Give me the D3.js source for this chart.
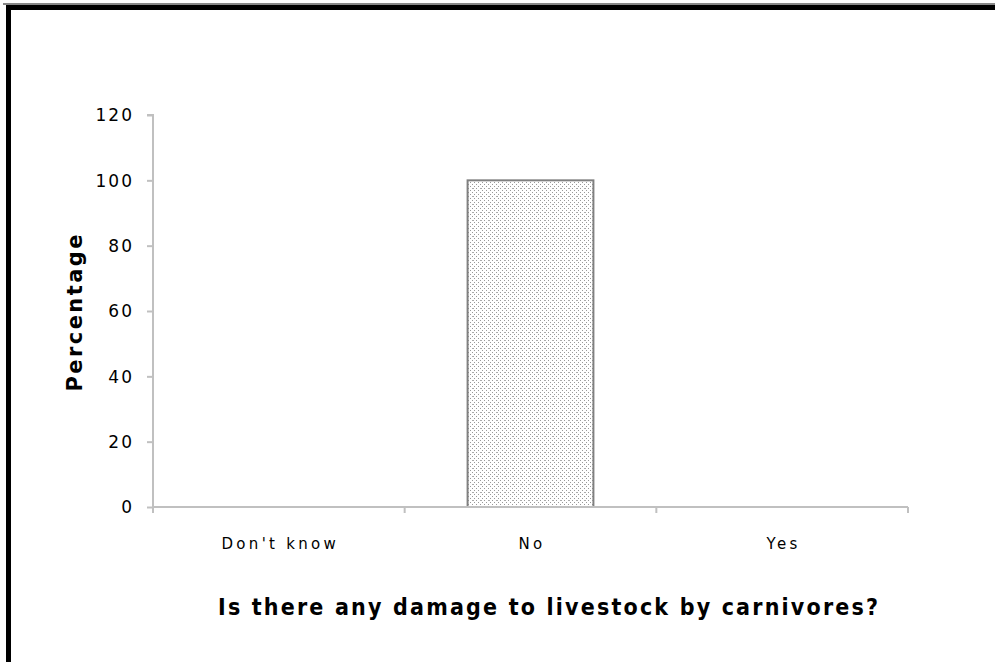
<!DOCTYPE html>
<html><head><meta charset="utf-8">
<script src="https://cdn.jsdelivr.net/npm/d3@7"></script>
<style>body{margin:0;background:#fff}svg{display:block}</style>
</head><body>
<script>
const categories = ["Don't know", "No", "Yes"];
const values = [0, 100, 0];
const yTicks = [0, 20, 40, 60, 80, 100, 120];
const yTitle = "Percentage";
const xTitle = "Is there any damage to livestock by carnivores?";

const W = 995, H = 662;
const svg = d3.select("body").append("svg").attr("width", W).attr("height", H);

// frame (top + left visible)
svg.append("rect").attr("x", 3).attr("y", 3).attr("width", W).attr("height", 2).attr("fill", "#888");
svg.append("rect").attr("x", 6).attr("y", 5).attr("width", W).attr("height", 5).attr("fill", "#000");
svg.append("rect").attr("x", 6).attr("y", 5).attr("width", 5).attr("height", H).attr("fill", "#000");

const defs = svg.append("defs");
const pat = defs.append("pattern").attr("id", "dots").attr("patternUnits", "userSpaceOnUse")
  .attr("width", 8).attr("height", 8);
pat.append("rect").attr("width", 8).attr("height", 8).attr("fill", "#fff");
[[0,0],[4,0],[2,2],[6,2],[0,4],[4,4],[2,6],[6,6]].forEach(([a,b]) =>
  pat.append("rect").attr("x", a).attr("y", b).attr("width", 1).attr("height", 1).attr("fill", "#999"));
pat.append("rect").attr("x", 0).attr("y", 4).attr("width", 2).attr("height", 1).attr("fill", "#aaa");

const x0 = 153, x1 = 908, yTop = 115, yBot = 507;
const x = d3.scaleBand().domain(categories).range([x0, x1]).paddingInner(0).paddingOuter(0);
const y = d3.scaleLinear().domain([0, 120]).range([yBot, yTop]);

// bars
const bw = x.bandwidth() * 0.5;
svg.selectAll("rect.bar").data(categories.map((c, i) => ({c, v: values[i]})).filter(d => d.v > 0))
  .enter().append("rect").attr("class", "bar")
  .attr("x", d => x(d.c) + (x.bandwidth() - bw) / 2)
  .attr("y", d => y(d.v))
  .attr("width", bw).attr("height", d => yBot - y(d.v))
  .attr("fill", "url(#dots)").attr("stroke", "#808080").attr("stroke-width", 2);

// y axis
const yAxis = svg.append("g").attr("transform", `translate(${x0},0)`)
  .call(d3.axisLeft(y).tickValues(yTicks).tickSize(6).tickPadding(13));
yAxis.select(".domain").attr("stroke", "#c0c0c0").attr("stroke-width", 2).attr("d", `M-6,${yTop}H0V${yBot}`);
yAxis.selectAll(".tick line").attr("stroke", "#c0c0c0").attr("stroke-width", 2);
yAxis.selectAll(".tick text").attr("font-family", "DejaVu Sans, Verdana, sans-serif")
  .attr("font-size", 17).attr("letter-spacing", 2).attr("fill", "#000").attr("dy", "0.35em");

// x axis
const xAxis = svg.append("g").attr("transform", `translate(0,${yBot})`);
xAxis.append("line").attr("x1", x0).attr("x2", x1).attr("y1", 0).attr("y2", 0)
  .attr("stroke", "#c0c0c0").attr("stroke-width", 2);
const bounds = categories.map(c => x(c)).concat([x1]);
xAxis.selectAll("line.tk").data(bounds).enter().append("line").attr("class", "tk")
  .attr("x1", d => d).attr("x2", d => d).attr("y1", 0).attr("y2", 6)
  .attr("stroke", "#c0c0c0").attr("stroke-width", 2);
xAxis.selectAll("text.cat").data(categories).enter().append("text").attr("class", "cat")
  .attr("x", d => x(d) + x.bandwidth() / 2 + 1.5).attr("y", 42)
  .attr("text-anchor", "middle").attr("font-family", "DejaVu Sans, Verdana, sans-serif")
  .attr("font-size", 15).attr("letter-spacing", 3.3).text(d => d);

// titles
svg.append("text").attr("transform", `translate(82,313) rotate(-90)`)
  .attr("text-anchor", "middle").attr("font-family", "DejaVu Sans, Verdana, sans-serif")
  .attr("font-weight", "bold").attr("font-size", 21)
  .attr("textLength", 157).attr("lengthAdjust", "spacing").text(yTitle);
svg.append("text").attr("x", 548).attr("y", 615)
  .attr("text-anchor", "middle").attr("font-family", "DejaVu Sans Condensed, DejaVu Sans, sans-serif")
  .attr("font-stretch", "condensed")
  .attr("font-weight", "bold").attr("font-size", 23)
  .attr("textLength", 660).attr("lengthAdjust", "spacing").text(xTitle);
</script>
</body></html>
